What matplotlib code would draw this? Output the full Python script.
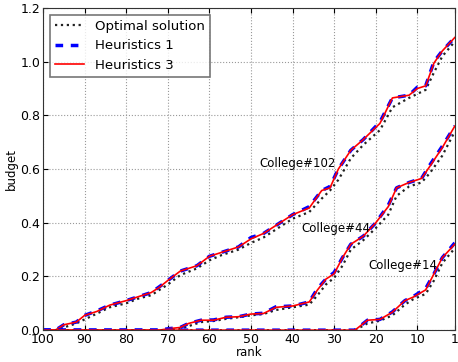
import matplotlib
matplotlib.use('Agg')
import matplotlib.pyplot as plt

# College#102
rank_102 = [100, 97, 95, 92, 90, 87, 84, 80, 77, 74, 72, 70, 67, 63, 60, 57, 53, 50,
            47, 43, 40, 36, 33, 31, 29, 26, 23, 19, 16, 12, 10, 8, 6, 4, 1]
opt_102 = [0, 0, 0.01, 0.025, 0.04, 0.062, 0.085, 0.10, 0.118, 0.13, 0.15, 0.17, 0.205,
           0.23, 0.26, 0.28, 0.30, 0.325, 0.345, 0.385, 0.415, 0.44, 0.49, 0.52, 0.56,
           0.64, 0.69, 0.745, 0.83, 0.865, 0.88, 0.895, 0.96, 1.02, 1.075]
h1_102 = [0, 0, 0.02, 0.03, 0.055, 0.072, 0.093, 0.11, 0.125, 0.14, 0.162, 0.185, 0.22,
          0.24, 0.275, 0.29, 0.31, 0.345, 0.36, 0.40, 0.43, 0.46, 0.52, 0.535, 0.60,
          0.67, 0.71, 0.775, 0.865, 0.875, 0.905, 0.91, 1.0, 1.04, 1.09]
h3_102 = [0, 0, 0.02, 0.03, 0.055, 0.07, 0.093, 0.11, 0.125, 0.14, 0.16, 0.185, 0.22,
          0.24, 0.275, 0.29, 0.31, 0.34, 0.36, 0.40, 0.43, 0.455, 0.52, 0.53, 0.60,
          0.67, 0.71, 0.77, 0.865, 0.875, 0.90, 0.91, 0.995, 1.04, 1.09]

# College#44
rank_44 = [100, 72, 70, 67, 65, 62, 59, 56, 53, 50, 47, 44, 40, 36, 34, 32, 30, 28, 26,
           23, 20, 17, 15, 12, 9, 7, 4, 1]
opt_44 = [0, 0, 0, 0.005, 0.015, 0.03, 0.034, 0.042, 0.048, 0.055, 0.06, 0.075, 0.085,
          0.095, 0.13, 0.17, 0.195, 0.24, 0.30, 0.335, 0.38, 0.43, 0.50, 0.535, 0.55,
          0.585, 0.65, 0.74]
h1_44 = [0, 0, 0.005, 0.01, 0.025, 0.037, 0.038, 0.048, 0.05, 0.06, 0.063, 0.087, 0.09,
         0.105, 0.155, 0.19, 0.215, 0.27, 0.32, 0.35, 0.40, 0.465, 0.53, 0.55, 0.565,
         0.615, 0.685, 0.76]
h3_44 = [0, 0, 0.005, 0.01, 0.025, 0.037, 0.037, 0.048, 0.05, 0.06, 0.062, 0.085, 0.09,
         0.105, 0.15, 0.19, 0.21, 0.27, 0.32, 0.35, 0.40, 0.46, 0.53, 0.55, 0.565, 0.61,
         0.68, 0.76]

# College#14
rank_14 = [100, 25, 22, 19, 16, 13, 11, 8, 6, 4, 1]
opt_14 = [0, 0, 0.025, 0.035, 0.055, 0.095, 0.115, 0.135, 0.185, 0.25, 0.305]
h1_14 = [0, 0, 0.037, 0.04, 0.068, 0.11, 0.125, 0.155, 0.21, 0.27, 0.325]
h3_14 = [0, 0, 0.037, 0.04, 0.067, 0.11, 0.123, 0.15, 0.21, 0.27, 0.32]

labels = ['College#102', 'College#44', 'College#14']
label_pos = [(48, 0.62), (38, 0.38), (21.7, 0.24)]

curves = [(rank_102, opt_102, h1_102, h3_102),
          (rank_44, opt_44, h1_44, h3_44),
          (rank_14, opt_14, h1_14, h3_14)]

fig, ax = plt.subplots(figsize=(4.58, 3.62), dpi=100)
fig.subplots_adjust(left=0.094, right=0.993, top=0.978, bottom=0.088)

for i, (r, o, h1, h3) in enumerate(curves):
    ax.plot(r, o, ':', color='#222222', lw=1.6,
            label='Optimal solution' if i == 0 else None)
    ax.plot(r, h1, color='blue', lw=2.5, dashes=(2.2, 2.2),
            label='Heuristics 1' if i == 0 else None)
    ax.plot(r, h3, '-', color='red', lw=1.2,
            label='Heuristics 3' if i == 0 else None)

for txt, (x, y) in zip(labels, label_pos):
    ax.text(x, y, txt, fontsize=8.5, va='center', ha='left')

ax.set_xlim(100, 1)
ax.set_ylim(0, 1.2)
ax.set_xticks([100, 90, 80, 70, 60, 50, 40, 30, 20, 10, 1])
ax.set_yticks([0.0, 0.2, 0.4, 0.6, 0.8, 1.0, 1.2])
ax.tick_params(direction='in', top=True, right=True, labelsize=9, pad=2)
ax.set_xlabel('rank', fontsize=8.5, labelpad=0)
ax.set_ylabel('budget', fontsize=8.5, labelpad=2)
ax.grid(True, linestyle=':', color='#999999', lw=0.8)
for s in ax.spines.values():
    s.set_color('#333333')

leg = ax.legend(loc='upper left', fontsize=9.5, fancybox=False, handlelength=2.2)
leg.get_frame().set_edgecolor('#555555')
leg.get_frame().set_linewidth(1.2)

fig.savefig('out.png', dpi=100)
